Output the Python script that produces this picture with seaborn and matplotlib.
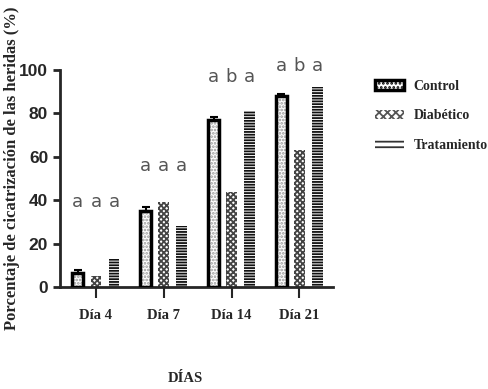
import pandas as pd
import numpy as np
import seaborn as sns
import matplotlib.pyplot as plt
from matplotlib.patches import Patch

days = ['Día 4', 'Día 7', 'Día 14', 'Día 21']
groups = ['Control', 'Diabético', 'Tratamiento']
control = [6.5, 35, 77, 88]
diabetico = [5, 39, 44, 63]
tratamiento = [13, 28, 81, 92]
control_err = [1.2, 2.0, 1.5, 0.8]
letters = [['a', 'a', 'a'], ['a', 'a', 'a'], ['a', 'b', 'a'], ['a', 'b', 'a']]
letter_y = [39, 56, 97, 102]

df = pd.DataFrame({
  'Dia': days * 3,
  'Grupo': [g for g in groups for _ in days],
  'Valor': control + diabetico + tratamiento,
})

sns.set_style('ticks')
plt.rcParams['hatch.linewidth'] = 1.3
fig = plt.figure(figsize=(4.88, 3.89), dpi=100)
ax = fig.add_axes([0.123, 0.262, 0.56, 0.558])

sns.barplot(data=df, x='Dia', y='Valor', hue='Grupo', hue_order=groups,
            order=days, width=0.8, gap=0.4, errorbar=None, legend=False, ax=ax)

styles = {
  'Control': dict(edgecolor='#999999', hatch='.....'),
  'Diabético': dict(edgecolor='#444444', hatch='xxxxxx'),
  'Tratamiento': dict(edgecolor='#111111', hatch='------'),
}
for cont, g in zip(ax.containers, groups):
  for bar in cont:
    bar.set_facecolor('white')
    bar.set_edgecolor(styles[g]['edgecolor'])
    bar.set_hatch(styles[g]['hatch'])
    bar.set_linewidth(0)

# thick black border on control bars
for bar in ax.containers[0]:
  ax.add_patch(plt.Rectangle((bar.get_x(), 0), bar.get_width(), bar.get_height(),
                             fill=False, edgecolor='black', lw=2.5, zorder=3))

cx = [b.get_x() + b.get_width() / 2 for b in ax.containers[0]]
ax.errorbar(cx, control, yerr=[np.zeros(4), control_err], fmt='none',
            ecolor='black', capsize=3, elinewidth=1.5, capthick=1.5, zorder=4)

offs = [-0.267, 0, 0.267]
for i in range(len(days)):
  for j in range(3):
    ax.text(i + offs[j], letter_y[i], letters[i][j], ha='center', va='center',
            fontsize=13, color='#555555', family='DejaVu Sans', clip_on=False)

ax.set_ylim(0, 100)
ax.set_xlim(-0.53, 3.5)
ax.set_yticks(range(0, 101, 20))
ax.set_yticklabels([str(v) for v in range(0, 101, 20)], fontsize=12.5,
                   fontweight='bold', family='Liberation Sans')
ax.set_xticks(range(4))
ax.set_xticklabels(days, fontsize=10.5, fontweight='bold', family='Liberation Serif')
ax.tick_params(axis='y', width=2, length=5)
ax.tick_params(axis='x', width=1.5, length=8, pad=8)
for s in ['left', 'bottom']:
  ax.spines[s].set_linewidth(2)
sns.despine(ax=ax)

ax.set_ylabel('Porcentaje de cicatrización de las heridas (%)', fontsize=12,
              fontweight='bold', family='Liberation Serif')
ax.yaxis.set_label_coords(-0.148, 0.548)
ax.set_xlabel('DÍAS', fontsize=10.5, fontweight='bold', family='Liberation Serif')
ax.xaxis.set_label_coords(0.46, -0.39)

handles = [
  Patch(facecolor='white', edgecolor='black', hatch='....', lw=2.5),
  Patch(facecolor='white', edgecolor='#555555', hatch='xxxx', lw=0),
  Patch(facecolor='white', edgecolor='#333333', hatch='---', lw=0),
]
fig.legend(handles, groups, loc='upper left', bbox_to_anchor=(0.768, 0.795),
           frameon=False, borderpad=0, borderaxespad=0,
           handlelength=2.1, handleheight=0.7, handletextpad=0.7,
           labelspacing=1.2,
           prop={'family': 'Liberation Serif', 'weight': 'bold', 'size': 10})

fig.savefig('out.png', dpi=100)
